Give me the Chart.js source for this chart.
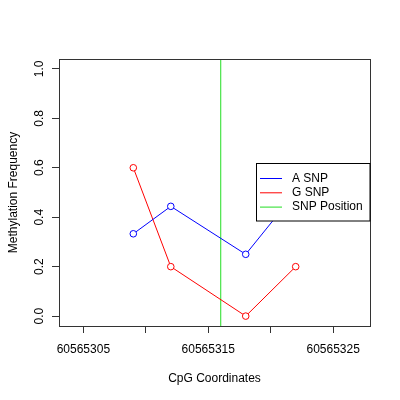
<!DOCTYPE html>
<html>
<head>
<meta charset="utf-8">
<script src="https://cdn.jsdelivr.net/npm/chart.js@4/dist/chart.umd.min.js"></script>
<style>
  html, body { margin: 0; padding: 0; background: #fff; }
  #wrap { width: 400px; height: 400px; }
</style>
</head>
<body>
<div id="wrap"><canvas id="c" width="400" height="400"></canvas></div>
<script>
// data
const coordsA = [60565309, 60565312, 60565318, 60565322];
const freqA = [0.333, 0.444, 0.25, 0.5];
const coordsG = [60565309, 60565312, 60565318, 60565322];
const freqG = [0.6, 0.2, 0.0, 0.2];
const snpPosition = 60565316;
const xTicks = [60565305, 60565310, 60565315, 60565320, 60565325];
const xLabelled = [60565305, 60565315, 60565325];
const yTicks = [0, 0.2, 0.4, 0.6, 0.8, 1.0];
const xRange = [60565303.05, 60565327.95];
const yRange = [-0.04, 1.04];

const FONT = "'Liberation Sans', Arial, Helvetica, sans-serif";
Chart.defaults.font.family = FONT;
Chart.defaults.color = "#000";

const toPoints = (xs, ys) => xs.map((x, i) => ({ x: x, y: ys[i] }));

// box around the plot, rotated y labels, R-like legend
const rStyle = {
  id: "rStyle",
  afterDatasetsDraw(chart) {
    const ctx = chart.ctx;
    const a = chart.chartArea;
    const y = chart.scales.y;
    ctx.save();
    ctx.strokeStyle = "#333";
    ctx.lineWidth = 1;
    ctx.strokeRect(Math.round(a.left) + 0.5, Math.round(a.top) + 0.5,
      Math.round(a.right - a.left), Math.round(a.bottom - a.top));

    ctx.fillStyle = "#000";
    ctx.font = "12px " + FONT;
    ctx.textAlign = "center";
    ctx.textBaseline = "middle";
    y.ticks.forEach((t) => {
      const py = y.getPixelForValue(t.value);
      ctx.save();
      ctx.translate(40, py);
      ctx.rotate(-Math.PI / 2);
      ctx.fillText(t.value.toFixed(1), 0, 0);
      ctx.restore();
    });

    // legend
    const lx = 256.5, ly = 163.5, lw = 113.5, lh = 57.5;
    ctx.fillStyle = "#fff";
    ctx.fillRect(lx, ly, lw, lh);
    ctx.strokeStyle = "#000";
    ctx.strokeRect(lx, ly, lw, lh);
    ctx.textAlign = "left";
    chart.data.datasets.forEach((ds, i) => {
      const ry = 178.5 + i * 14.3;
      ctx.strokeStyle = ds.borderColor;
      ctx.beginPath();
      ctx.moveTo(260, ry);
      ctx.lineTo(282, ry);
      ctx.stroke();
      ctx.fillStyle = "#000";
      ctx.fillText(ds.label, 292, ry);
    });
    ctx.restore();
  },
};

new Chart(document.getElementById("c"), {
  type: "scatter",
  data: {
    datasets: [
      {
        label: "A SNP",
        data: toPoints(coordsA, freqA),
        showLine: true,
        borderColor: "#0000ff",
        backgroundColor: "#fff",
        borderWidth: 1,
        pointRadius: 3.3,
        pointBorderWidth: 1,
      },
      {
        label: "G SNP",
        data: toPoints(coordsG, freqG),
        showLine: true,
        borderColor: "#ff0000",
        backgroundColor: "#fff",
        borderWidth: 1,
        pointRadius: 3.3,
        pointBorderWidth: 1,
      },
      {
        label: "SNP Position",
        data: toPoints([snpPosition, snpPosition], yRange),
        showLine: true,
        borderColor: "#22dd22",
        borderWidth: 1,
        pointRadius: 0,
      },
    ],
  },
  options: {
    responsive: false,
    animation: false,
    events: [],
    layout: { padding: { top: 59, right: 30, left: 0, bottom: 0 } },
    plugins: { legend: { display: false }, tooltip: { enabled: false } },
    scales: {
      x: {
        type: "linear",
        min: xRange[0],
        max: xRange[1],
        afterBuildTicks: (s) => { s.ticks = xTicks.map((v) => ({ value: v })); },
        afterFit: (s) => { s.height = 74; },
        border: { display: false },
        grid: { drawOnChartArea: false, tickLength: 7, color: "#333" },
        ticks: {
          maxRotation: 0,
          autoSkip: false,
          padding: 9,
          font: { size: 12 },
          callback: (v) => (xLabelled.includes(v) ? String(v) : ""),
        },
        title: {
          display: true,
          text: "CpG Coordinates",
          font: { size: 12 },
          padding: { top: 0, bottom: 14 },
        },
      },
      y: {
        min: yRange[0],
        max: yRange[1],
        afterBuildTicks: (s) => { s.ticks = yTicks.map((v) => ({ value: v })); },
        afterFit: (s) => { s.width = 59; },
        border: { display: false },
        grid: { drawOnChartArea: false, tickLength: 7, color: "#333" },
        ticks: { display: false },
        title: {
          display: true,
          text: "Methylation Frequency",
          font: { size: 12 },
          padding: { top: 6, bottom: 0 },
        },
      },
    },
  },
  plugins: [rStyle],
});
</script>
</body>
</html>
